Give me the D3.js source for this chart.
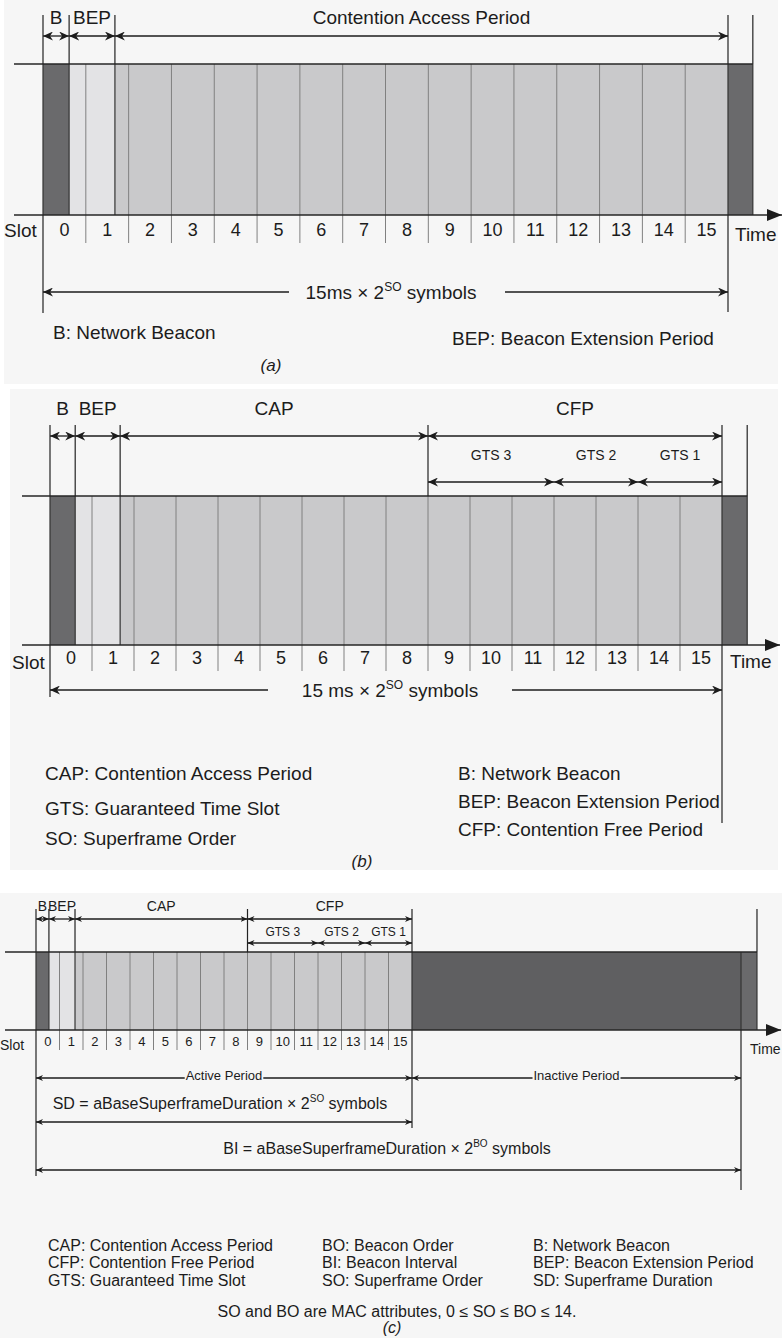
<!DOCTYPE html>
<html><head><meta charset="utf-8">
<script src="https://cdn.jsdelivr.net/npm/d3@7"></script>
<style>
body{margin:0;background:#fff}
svg{display:block}
text{font-family:"Liberation Sans",Arial,Helvetica,sans-serif;fill:#1c1c1c}
</style>
</head><body>
<svg id="c" width="782" height="1338"></svg>
<script>
// ---------------- DATA ----------------
const slotLabels = [0,1,2,3,4,5,6,7,8,9,10,11,12,13,14,15];

// panel (a): segments in slot units
const segA = [
  {k:"beacon", s:0,    e:0.61},
  {k:"bep",    s:0.61, e:1.68},
  {k:"cap",    s:1.68, e:16},
  {k:"beacon", s:16,   e:16.58}
];
const topA = [
  {label:"B",   s:0,    e:0.61},
  {label:"BEP", s:0.61, e:1.68},
  {label:"Contention Access Period", s:1.68, e:16}
];
const legendA = ["B: Network Beacon", "BEP: Beacon Extension Period"];

// panel (b)
const segB = [
  {k:"beacon", s:0,    e:0.6},
  {k:"bep",    s:0.6,  e:1.67},
  {k:"cap",    s:1.67, e:16},
  {k:"beacon", s:16,   e:16.6}
];
const topB = [
  {label:"B",   s:0,    e:0.6},
  {label:"BEP", s:0.6,  e:1.67},
  {label:"CAP", s:1.67, e:9},
  {label:"CFP", s:9,    e:16}
];
const gtsB = [
  {label:"GTS 3", s:9,  e:12},
  {label:"GTS 2", s:12, e:14},
  {label:"GTS 1", s:14, e:16}
];
const legendBLeft  = ["CAP: Contention Access Period", "GTS: Guaranteed Time Slot", "SO: Superframe Order"];
const legendBRight = ["B: Network Beacon", "BEP: Beacon Extension Period", "CFP: Contention Free Period"];

// panel (c)
const segC = [
  {k:"beacon",   s:0,    e:0.55},
  {k:"bep",      s:0.55, e:1.66},
  {k:"cap",      s:1.66, e:16},
  {k:"inactive", s:16,   e:30},
  {k:"beacon",   s:30,   e:30.68}
];
const topC = [
  {label:"B",   s:0,    e:0.55},
  {label:"BEP", s:0.55, e:1.66},
  {label:"CAP", s:1.66, e:9},
  {label:"CFP", s:9,    e:16}
];
const gtsC = [
  {label:"GTS 3", s:9,  e:12},
  {label:"GTS 2", s:12, e:14},
  {label:"GTS 1", s:14, e:16}
];
const periodsC = [
  {label:"Active Period",   s:0,  e:16},
  {label:"Inactive Period", s:16, e:30}
];
const legendC = [
  ["CAP: Contention Access Period", "CFP: Contention Free Period", "GTS: Guaranteed Time Slot"],
  ["BO: Beacon Order", "BI: Beacon Interval", "SO: Superframe Order"],
  ["B: Network Beacon", "BEP: Beacon Extension Period", "SD: Superframe Duration"]
];

// ---------------- DRAWING ----------------
const svg = d3.select("#c");
const COL = {beacon:"#6a6a6c", bep:"#e3e3e5", cap:"#c9c9cb", inactive:"#5f5f61",
             line:"#262626", slot:"#808080", bg:"#f6f6f6"};

// backgrounds
svg.append("rect").attr("width",782).attr("height",1338).attr("fill","#fff");
[[4,0,774,384],[10,389,768,481],[0,893,782,445]].forEach(b=>{
  svg.append("rect").attr("x",b[0]).attr("y",b[1]).attr("width",b[2]).attr("height",b[3]).attr("fill",COL.bg);
});

const defs = svg.append("defs");
function mk(id, L, Wd){
  defs.append("marker").attr("id",id).attr("viewBox","0 0 10 10")
    .attr("refX",10).attr("refY",5).attr("markerWidth",L).attr("markerHeight",Wd)
    .attr("markerUnits","userSpaceOnUse").attr("preserveAspectRatio","none")
    .attr("orient","auto-start-reverse")
    .append("path").attr("d","M0,0 L10,5 L0,10 L3,5 Z").attr("fill","#1c1c1c");
}
mk("ah",10,9); mk("ahs",7,6);
defs.append("marker").attr("id","axh").attr("viewBox","0 0 10 10")
  .attr("refX",10).attr("refY",5).attr("markerWidth",15).attr("markerHeight",12)
  .attr("markerUnits","userSpaceOnUse").attr("preserveAspectRatio","none")
  .attr("orient","auto")
  .append("path").attr("d","M0,0 L10,5 L0,10 Z").attr("fill","#1c1c1c");

function vline(g,x,y1,y2,stroke,w){
  g.append("line").attr("x1",x).attr("x2",x).attr("y1",y1).attr("y2",y2)
    .attr("stroke",stroke||COL.line).attr("stroke-width",w||1.2);
}
function arrow(g,x1,x2,y,m,start,end){
  const l = g.append("line").attr("x1",x1).attr("x2",x2).attr("y1",y).attr("y2",y)
    .attr("stroke","#1c1c1c").attr("stroke-width",1.3);
  if(start) l.attr("marker-start",`url(#${m})`);
  if(end) l.attr("marker-end",`url(#${m})`);
}
function label(g,x,y,str,size,anchor,italic){
  return g.append("text").attr("x",x).attr("y",y).attr("font-size",size)
    .attr("text-anchor",anchor||"middle").attr("font-style",italic?"italic":null).text(str);
}
function supText(g,x,y,pre,sup,post,size,supSize,rise){
  const t = g.append("text").attr("x",x).attr("y",y).attr("font-size",size).attr("text-anchor","middle");
  t.append("tspan").text(pre);
  t.append("tspan").attr("dy",-rise).attr("font-size",supSize).text(sup);
  t.append("tspan").attr("dy",rise).text(post);
  return t;
}

function drawPanel(p){
  const g = svg.append("g");
  const x = d3.scaleLinear().domain([0,16]).range([p.x0,p.x16]);
  const last = d3.max(p.segs,d=>d.e);
  // segments
  g.selectAll(null).data(p.segs).join("rect")
    .attr("x",d=>x(d.s)).attr("y",p.top)
    .attr("width",d=>x(d.e)-x(d.s)).attr("height",p.bot-p.top)
    .attr("fill",d=>COL[d.k]);
  // slot lines + ticks below
  g.selectAll(null).data(slotLabels.slice(1)).join("line")
    .attr("x1",d=>x(d)).attr("x2",d=>x(d))
    .attr("y1",p.top).attr("y2",p.bot+p.tick)
    .attr("stroke",COL.slot).attr("stroke-width",1);
  // segment boundaries
  const bounds = Array.from(new Set(p.segs.flatMap(d=>[d.s,d.e])));
  bounds.forEach(b=>vline(g,x(b),p.top,p.bot,"#333",1.2));
  // frame top
  g.append("line").attr("x1",p.ax0).attr("x2",x(last)).attr("y1",p.top).attr("y2",p.top)
    .attr("stroke",COL.line).attr("stroke-width",1.3);
  // time axis
  g.append("line").attr("x1",p.ax0).attr("x2",p.axTip).attr("y1",p.bot).attr("y2",p.bot)
    .attr("stroke",COL.line).attr("stroke-width",1.4).attr("marker-end","url(#axh)");
  // slot labels
  g.selectAll(null).data(slotLabels).join("text")
    .attr("x",d=>x(d+0.5)).attr("y",p.slotY).attr("font-size",p.slotSize)
    .attr("text-anchor","middle").text(d=>d);
  label(g,p.slotX,p.slotTextY,"Slot",p.axisSize,"start");
  label(g,p.timeX,p.timeY,"Time",p.axisSize,"start");
  // top period arrows and labels
  p.tops.forEach(t=>{
    arrow(g,x(t.s),x(t.e),p.arrowY,p.marker,true,true);
    label(g,(x(t.s)+x(t.e))/2,p.labelY,t.label,p.labelSize);
  });
  // top vertical boundary lines
  p.topLines.forEach(v=>vline(g,x(v),p.vTop,p.top,"#222",1.2));
  // GTS
  if(p.gts){
    p.gts.forEach(t=>{
      arrow(g,x(t.s),x(t.e),p.gtsY,p.marker,true,true);
      label(g,(x(t.s)+x(t.e))/2,p.gtsLabelY,t.label,p.gtsSize);
    });
  }
  // long lines
  p.longLines.forEach(l=>vline(g,x(l.v),l.y1,l.y2,"#222",1.2));
  return {g,x};
}

// ---------- panel (a) ----------
const A = drawPanel({
  segs:segA, tops:topA, x0:43, x16:728, top:64, bot:215, ax0:14, axTip:782, tick:28,
  slotY:236, slotSize:18, slotX:4, slotTextY:237, timeX:735, timeY:241, axisSize:19,
  arrowY:36, labelY:24, labelSize:19, marker:"ah", vTop:15,
  topLines:[0,0.61,1.68,16,16.58],
  longLines:[{v:0,y1:215,y2:313},{v:16,y1:215,y2:312}]
});
arrow(A.g,289,A.x(0),292,"ah",false,true);
arrow(A.g,505,A.x(16),292,"ah",false,true);
supText(A.g,391,299,"15ms × 2","SO"," symbols",19,12,8);
label(A.g,53,339,legendA[0],19,"start");
label(A.g,452,345,legendA[1],19,"start");
label(A.g,271,371,"(a)",17,"middle",true);

// ---------- panel (b) ----------
const B = drawPanel({
  segs:segB, tops:topB, gts:gtsB, x0:50, x16:722, top:496, bot:645, ax0:22, axTip:780, tick:26,
  slotY:664, slotSize:18, slotX:12, slotTextY:669, timeX:730, timeY:668, axisSize:19,
  arrowY:436, labelY:415, labelSize:19, marker:"ah", vTop:425,
  gtsY:482, gtsLabelY:460, gtsSize:14,
  topLines:[0,0.6,1.67,9,16,16.6],
  longLines:[{v:0,y1:645,y2:697},{v:16,y1:645,y2:823}]
});
arrow(B.g,268,B.x(0),690,"ah",false,true);
arrow(B.g,512,B.x(16),690,"ah",false,true);
supText(B.g,390,697,"15 ms × 2","SO"," symbols",19,12,8);
legendBLeft.forEach((s,i)=>label(B.g,45,[780,815,845][i],s,19,"start"));
legendBRight.forEach((s,i)=>label(B.g,458,[780,808,836][i],s,19,"start"));
label(B.g,362,867,"(b)",17,"middle",true);

// ---------- panel (c) ----------
const Cp = drawPanel({
  segs:segC, tops:topC, gts:gtsC, x0:36, x16:412, top:952, bot:1030, ax0:5, axTip:781, tick:20,
  slotY:1046, slotSize:13, slotX:0, slotTextY:1050, timeX:750, timeY:1054, axisSize:14,
  arrowY:919, labelY:911, labelSize:14, marker:"ahs", vTop:909,
  gtsY:943, gtsLabelY:936, gtsSize:12,
  topLines:[0,0.55,1.66,9,16,30.68],
  longLines:[{v:0,y1:1030,y2:1176},{v:16,y1:1030,y2:1128},{v:30,y1:1030,y2:1190}]
});
// active / inactive periods
periodsC.forEach(pd=>{
  const xs = Cp.x(pd.s), xe = Cp.x(pd.e), cx = (xs+xe)/2;
  const t = label(Cp.g,cx,1080,pd.label,13);
  const w = t.node().getComputedTextLength();
  arrow(Cp.g,cx-w/2-1,xs,1078,"ahs",false,true);
  arrow(Cp.g,cx+w/2+1,xe,1078,"ahs",false,true);
});
supText(Cp.g,220,1109,"SD = aBaseSuperframeDuration × 2","SO"," symbols",16,10,7);
arrow(Cp.g,Cp.x(0),Cp.x(16),1122,"ahs",true,true);
supText(Cp.g,387,1154,"BI = aBaseSuperframeDuration × 2","BO"," symbols",16,10,7);
arrow(Cp.g,Cp.x(0),Cp.x(30),1170,"ahs",true,true);
legendC.forEach((col,ci)=>{
  col.forEach((s,ri)=>label(Cp.g,[48,322,533][ci],[1251,1268,1286][ri],s,16,"start"));
});
label(Cp.g,397,1317,"SO and BO are MAC attributes, 0 ≤ SO ≤ BO ≤ 14.",16);
label(Cp.g,392,1333,"(c)",16,"middle",true);
</script>
</body></html>
